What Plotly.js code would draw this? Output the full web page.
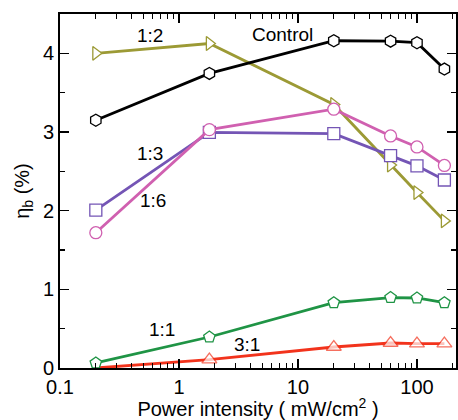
<!DOCTYPE html>
<html>
<head>
<meta charset="utf-8">
<script src="https://cdn.plot.ly/plotly-3.0.1.min.js"></script>
<style>html,body{margin:0;padding:0;background:#fff;}#chart{width:458px;height:420px;}</style>
</head>
<body>
<div id="chart"></div>
<script>
const power = [0.2, 1.8, 20, 60, 100, 170];
const control = [3.15, 3.745, 4.16, 4.155, 4.135, 3.80];
const r12 = [4.00, 4.125, 3.35, 2.58, 2.23, 1.87];
const r13 = [2.006, 2.995, 2.98, 2.70, 2.57, 2.39];
const r16 = [1.72, 3.03, 3.29, 2.95, 2.81, 2.575];
const r11 = [0.064, 0.394, 0.83, 0.895, 0.89, 0.83];
const r31 = [0.0, 0.107, 0.267, 0.318, 0.31, 0.31];
const xMajor = [0.1, 1, 10, 100];
const xMajorText = ['0.1', '1', '10', '100'];
const xMinor = [0.2,0.3,0.4,0.5,0.6,0.7,0.8,0.9,2,3,4,5,6,7,8,9,20,30,40,50,60,70,80,90,200];
const labels = ['1:2', 'Control', '1:3', '1:6', '1:1', '3:1'];

function tr(y, color, symbol, name, sizes) {
  return {
    x: power, y: y, name: name, type: 'scatter', mode: 'lines+markers',
    line: {color: color, width: 2.8},
    marker: {symbol: symbol, size: sizes || 12, color: 'white', line: {color: color, width: 1.3}},
    cliponaxis: false
  };
}
const data = [
  tr(r12, '#9c9a35', 'triangle-right', '1:2'),
  tr(control, '#000000', 'hexagon', 'Control'),
  tr(r13, '#7455b5', 'square', '1:3'),
  tr(r16, '#d060b0', 'circle', '1:6'),
  tr(r31, '#f2331c', 'triangle-up', '3:1', [0, 13, 13, 13, 13, 13]),
  tr(r11, '#1f9445', 'pentagon', '1:1')
];
const annPos = [[-0.244, 4.23], [0.874, 4.245], [-0.244, 2.73], [-0.218, 2.13], [-0.143, 0.49], [0.571, 0.30]];
const annotations = labels.map((t, i) => ({
  x: annPos[i][0], y: annPos[i][1], xref: 'x', yref: 'y', text: t, showarrow: false,
  font: {family: 'Liberation Sans, Arial, sans-serif', size: 19, color: '#000'}
}));
const font = {family: 'Liberation Sans, Arial, sans-serif', size: 20, color: '#000'};
const layout = {
  width: 458, height: 420,
  margin: {l: 60, r: 2, t: 14, b: 52},
  paper_bgcolor: '#fff', plot_bgcolor: '#fff',
  showlegend: false,
  font: font,
  xaxis: {
    type: 'log', range: [-1, 2.328],
    tickmode: 'array', tickvals: xMajor, ticktext: xMajorText,
    ticks: 'inside', ticklen: 9, tickwidth: 1.5, tickcolor: '#000',
    minor: {tickmode: 'array', tickvals: xMinor, ticks: 'inside', ticklen: 5, tickwidth: 1.2, tickcolor: '#000'},
    showline: true, linecolor: '#000', linewidth: 2, mirror: 'allticks',
    showgrid: false, zeroline: false,
    tickfont: font,
    title: {text: 'Power intensity ( mW/cm<sup>2</sup> )', font: font, standoff: 2}
  },
  yaxis: {
    range: [0, 4.5], tickmode: 'linear', tick0: 0, dtick: 1,
    ticks: 'inside', ticklen: 9, tickwidth: 1.5, tickcolor: '#000',
    minor: {dtick: 0.5, ticks: 'inside', ticklen: 5, tickwidth: 1.2, tickcolor: '#000'},
    showline: true, linecolor: '#000', linewidth: 2, mirror: 'allticks',
    showgrid: false, zeroline: false,
    tickfont: font,
    title: {text: 'η<sub>b</sub> (%)', font: font, standoff: 8}
  },
  annotations: annotations
};
Plotly.newPlot('chart', data, layout, {displayModeBar: false, staticPlot: true});
</script>
</body>
</html>
